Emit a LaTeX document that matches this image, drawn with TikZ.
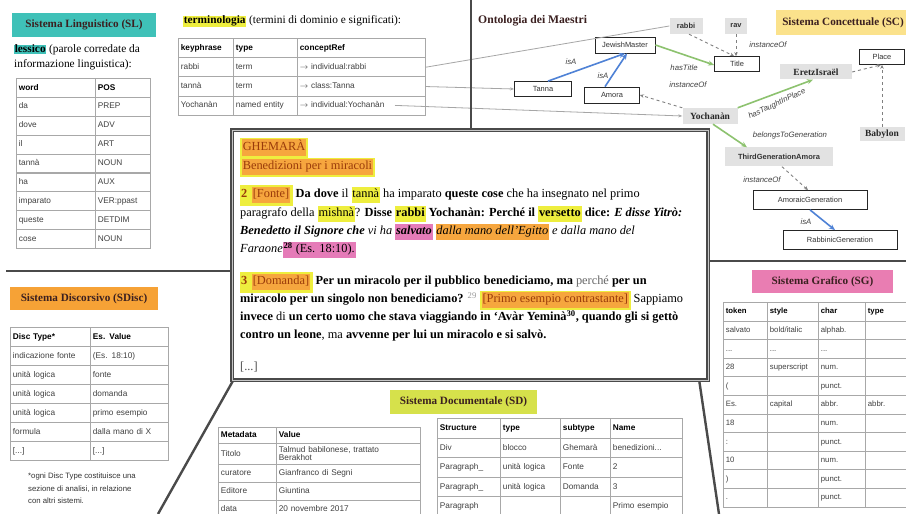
\documentclass[tikz,border=0pt]{standalone}
\usepackage{fontspec}
\setmainfont{Liberation Serif}
\setsansfont{Liberation Sans}
\usetikzlibrary{matrix,arrows.meta}

\definecolor{slteal}{HTML}{3FC1B8}
\definecolor{scyellow}{HTML}{FBE28C}
\definecolor{sdorange}{HTML}{F6A236}
\definecolor{sdgreen}{HTML}{D6E14B}
\definecolor{sgpink}{HTML}{E97DB2}
\definecolor{hly}{HTML}{EEEE3E}
\definecolor{hlo}{HTML}{F6A63E}
\definecolor{hlp}{HTML}{E57BB8}
\definecolor{nodegray}{HTML}{E2E2E2}
\definecolor{ogreen}{HTML}{8DC26F}
\definecolor{oblue}{HTML}{4F82D6}
\definecolor{divider}{HTML}{4A4A4A}
\definecolor{tblline}{HTML}{A8A8A8}
\definecolor{brownish}{HTML}{9A3B0A}
\definecolor{titletext}{HTML}{3B2020}

\newcommand{\mkY}[1]{{\setlength{\fboxsep}{0.8bp}\colorbox{hly}{\strut #1}}}
\newcommand{\mkO}[1]{{\setlength{\fboxsep}{1bp}\setlength{\fboxrule}{1.6bp}\fcolorbox{hly}{hlo}{\strut\textcolor{brownish}{#1}}}}
\newcommand{\mkOr}[1]{{\setlength{\fboxsep}{0.8bp}\colorbox{hlo}{\strut #1}}}
\newcommand{\mkP}[1]{{\setlength{\fboxsep}{0.8bp}\colorbox{hlp}{\strut #1}}}

\tikzset{
  divline/.style={draw=divider, line width=2.4bp},
  systitle/.style={inner sep=0pt, font=\bfseries\fontsize{11.2}{13}\selectfont, text=titletext},
  tbl/.style={matrix of nodes, nodes in empty cells, inner sep=0pt, outer sep=0pt,
    column sep=-0.8bp, row sep=-0.8bp,
    nodes={draw=tblline, line width=0.8bp, font=\sffamily\fontsize{8.3}{9.5}\selectfont,
      text=black!75, inner xsep=2.5bp, inner ysep=0pt, outer sep=0pt, align=left,
      text height=6.2bp, text depth=1.8bp, anchor=center},
    row 1/.style={nodes={font=\sffamily\bfseries\fontsize{8.3}{9.5}\selectfont, text=black}}},
  sgtbl/.style={tbl, nodes={font=\sffamily\fontsize{7.8}{9}\selectfont},
    row 1/.style={nodes={font=\sffamily\bfseries\fontsize{7.8}{9}\selectfont, text=black}}},
  onode/.style={draw=black!85, line width=0.8bp, fill=white, inner sep=0pt,
    font=\sffamily\fontsize{7.5}{9}\selectfont, text=black!80},
  gsans/.style={fill=nodegray, inner sep=0pt, font=\sffamily\bfseries\fontsize{7.5}{9}\selectfont, text=black!80},
  gserif/.style={fill=nodegray, inner sep=0pt, font=\bfseries\fontsize{9.5}{11}\selectfont, text=black!85},
  elabel/.style={inner sep=0pt, font=\sffamily\itshape\fontsize{7.8}{9}\selectfont, text=black!75},
  isa/.style={draw=oblue, line width=1.6bp, -{Stealth[length=6bp,width=5bp]}},
  rel/.style={draw=ogreen, line width=1.6bp, -{Stealth[length=6bp,width=5bp]}},
  inst/.style={draw=gray, line width=0.9bp, dashed, -{Stealth[length=4bp,width=3.5bp]}},
  termln/.style={draw=gray!70, line width=0.8bp},
  termarr/.style={termln, -{Stealth[length=4bp,width=3bp]}},
  btxt/.style={anchor=base west, inner sep=0pt, font=\fontsize{12.4}{14}\selectfont},
  ptxt/.style={anchor=base west, inner sep=0pt, font=\fontsize{11.4}{13}\selectfont},
}

\begin{document}
\begin{tikzpicture}[x=1bp,y=-1bp]
\fill[white] (0,0) rectangle (906,514);
\clip (0,0) rectangle (906,514);

% ---------------- Sistema Linguistico ----------------
\node[systitle, fill=slteal, minimum width=144bp, minimum height=24bp] (slt) at (84,25) {Sistema Linguistico (SL)};
\node[ptxt] (lex1) at (14,53) {{\setlength{\fboxsep}{0.6bp}\colorbox{slteal}{\textbf{lessico}}} (parole corredate da};
\node[ptxt] (lex2) at (14,68) {informazione linguistica):};
\matrix (sl) [tbl, anchor=north west, nodes={minimum height=18.9bp},
  column 1/.style={nodes={text width=74bp}}, column 2/.style={nodes={text width=50bp}}] at (16,78) {
word & POS \\
da & PREP \\
dove & ADV \\
il & ART \\
tannà & NOUN \\
ha & AUX \\
imparato & VER:ppast \\
queste & DETDIM \\
cose & NOUN \\
};

% ---------------- terminologia ----------------
\node[ptxt] (termlbl) at (183,24) {{\setlength{\fboxsep}{0.6bp}\colorbox{hly}{\textbf{terminologia}}} (termini di dominio e significati):};
\matrix (term) [tbl, anchor=north west, nodes={minimum height=19.25bp},
  column 1/.style={nodes={text width=50bp}}, column 2/.style={nodes={text width=59bp}},
  column 3/.style={nodes={text width=123bp}}] at (178,38) {
keyphrase & type & conceptRef \\
rabbi & term & $\rightarrow$ individual:rabbi \\
tannà & term & $\rightarrow$ class:Tanna \\
Yochanàn & named entity & $\rightarrow$ individual:Yochanàn \\
};
\coordinate (ystart) at (395,105.4);

% ---------------- Ontologia ----------------
\node[anchor=base west, inner sep=0pt, font=\bfseries\fontsize{11.7}{13}\selectfont, text=titletext] (ont) at (478,24) {Ontologia dei Maestri};
\node[systitle, fill=scyellow, minimum width=134bp, minimum height=25bp] (sct) at (843,23) {Sistema Concettuale (SC)};

\node[gsans, minimum width=33bp, minimum height=16bp] (rabbi) at (686,26) {rabbi};
\node[gsans, minimum width=22bp, minimum height=16bp] (rav) at (736,26) {rav};
\node[onode, minimum width=60bp, minimum height=16bp] (jm) at (625,45) {JewishMaster};
\node[onode, minimum width=45bp, minimum height=15bp] (title) at (737,64) {Title};
\node[onode, minimum width=45bp, minimum height=15bp] (place) at (882,57) {Place};
\node[onode, minimum width=57bp, minimum height=15bp] (tanna) at (543,89) {Tanna};
\node[onode, minimum width=55bp, minimum height=16bp] (amora) at (612,95) {Amora};
\node[gserif, minimum width=72bp, minimum height=15bp] (eretz) at (816,72) {EretzIsraël};
\node[gserif, minimum width=55bp, minimum height=16bp] (yoch) at (710,116) {Yochanàn};
\node[gserif, minimum width=45bp, minimum height=14bp] (baby) at (882,134) {Babylon};
\node[gsans, minimum width=108bp, minimum height=19bp] (third) at (779,157) {ThirdGenerationAmora};
\node[onode, minimum width=114bp, minimum height=19bp] (amgen) at (810,200) {AmoraicGeneration};
\node[onode, minimum width=114bp, minimum height=19bp] (rabgen) at (840,240) {RabbinicGeneration};

\draw[isa] ([xshift=5bp]tanna.north) -- (jm.south);
\draw[isa] ([xshift=-7bp]amora.north) -- ([xshift=2bp]jm.south);
\draw[rel] (jm.east) -- ([yshift=-1bp]title.west);
\draw[inst] ([xshift=3bp]rabbi.south) -- ([xshift=-3bp]title.north);
\draw[inst] (rav.south) -- ([xshift=-1bp]title.north);
\draw[inst] (yoch.north west) -- (amora.east);
\draw[rel] (yoch.north east) -- ([xshift=-3bp]eretz.south);
\draw[inst] (eretz.east) -- ([xshift=-1bp]place.south);
\draw[inst] (baby.north) -- (place.south);
\draw[rel] ([xshift=3bp]yoch.south) -- ([xshift=-32bp]third.north);
\draw[inst] ([xshift=3bp]third.south) -- ([xshift=-2bp]amgen.north);
\draw[isa] (amgen.south) -- ([xshift=-5bp]rabgen.north);

\node[elabel] (lisa1) at (571,62) {isA};
\node[elabel] (lisa2) at (603,76) {isA};
\node[elabel] (lhastitle) at (684,68) {hasTitle};
\node[elabel] (linst1) at (768,45) {instanceOf};
\node[elabel] (linst2) at (688,85) {instanceOf};
\node[elabel, rotate=25] (ltaught) at (777,104) {hasTaughtInPlace};
\node[elabel] (lbelongs) at (790,135) {belongsToGeneration};
\node[elabel] (linst3) at (762,180) {instanceOf};
\node[elabel] (lisa3) at (806,222) {isA};

\draw[termln] (term-2-3.east) -- (rabbi.west);
\draw[termarr] (term-3-3.east) -- (tanna.west);
\draw[termarr] (ystart) -- (yoch.west);

% ---------------- Sistema Discorsivo ----------------
\node[systitle, fill=sdorange, minimum width=148bp, minimum height=23bp] (sdt) at (84,298.5) {Sistema Discorsivo (SDisc)};
\matrix (sdisc) [tbl, anchor=north west, nodes={minimum height=19bp},
  column 1/.style={nodes={text width=75bp}}, column 2/.style={nodes={text width=73bp}}] at (10,327) {
Disc Type* & Es. Value \\
indicazione fonte & {(Es. 18:10)} \\
unità logica & fonte \\
unità logica & domanda \\
unità logica & primo esempio \\
formula & dalla mano di X \\
{[...]} & {[...]} \\
};
\node[anchor=north west, inner sep=0pt, align=left, font=\sffamily\fontsize{7.8}{12.3}\selectfont, text=black!80] (fn) at (28,473) {*ogni Disc Type costituisce una\\sezione di analisi, in relazione\\con altri sistemi.};

% ---------------- Sistema Documentale ----------------
\node[systitle, fill=sdgreen, minimum width=147bp, minimum height=24bp] (sdoct) at (463.5,402) {Sistema Documentale (SD)};
\matrix (meta) [tbl, anchor=north west, nodes={minimum height=18bp},
  row 1/.style={nodes={minimum height=16bp, font=\sffamily\bfseries\fontsize{8.3}{9.5}\selectfont, text=black}},
  row 2/.style={nodes={minimum height=21bp}},
  column 1/.style={nodes={text width=53bp}}, column 2/.style={nodes={text width=139bp}}] at (218,427) {
Metadata & Value \\
Titolo & |[text depth=10bp, font=\sffamily\fontsize{8.3}{8.6}\selectfont]| Talmud babilonese, trattato\newline Berakhot \\
curatore & Gianfranco di Segni \\
Editore & Giuntina \\
data & 20 novembre 2017 \\
};
\matrix (struct) [tbl, anchor=north west, nodes={minimum height=19.6bp},
  column 1/.style={nodes={text width=58bp}}, column 2/.style={nodes={text width=55bp}},
  column 3/.style={nodes={text width=45bp}}, column 4/.style={nodes={text width=67bp}}] at (437,418) {
Structure & type & subtype & Name \\
Div & blocco & Ghemarà & benedizioni... \\
Paragraph\_ & unità logica & Fonte & 2 \\
Paragraph\_ & unità logica & Domanda & 3 \\
Paragraph & & & Primo esempio \\
};

% ---------------- Sistema Grafico ----------------
\node[systitle, fill=sgpink, minimum width=141bp, minimum height=23bp] (sgt) at (822.5,281.5) {Sistema Grafico (SG)};
\matrix (sg) [sgtbl, anchor=north west, nodes={minimum height=18.6bp},
  column 1/.style={nodes={text width=39bp}}, column 2/.style={nodes={text width=46bp}},
  column 3/.style={nodes={text width=42bp}}, column 4/.style={nodes={text width=40bp}}] at (723,302) {
token & style & char & type \\
salvato & bold/italic & alphab. & \\
... & ... & ... & \\
28 & superscript & num. & \\
{(} & & punct. & \\
Es. & capital & abbr. & abbr. \\
18 & & num. & \\
: & & punct. & \\
10 & & num. & \\
{)} & & punct. & \\
. & & punct. & \\
};

% ---------------- dividers ----------------
\draw[divline] (471,0) -- (471,130);
\draw[divline] (6,271) -- (232,271);
\draw[divline] (708,261) -- (906,261);
\draw[divline] (234,379) -- (158,514);
\draw[divline] (699,379) -- (719,514);

% ---------------- central text box ----------------
\node[draw=divider, line width=1.1bp, double=gray!45, double distance=0.9bp, fill=white,
  minimum width=476bp, minimum height=250bp, inner sep=0pt] (box) at (470,255) {};
\begin{scope}
\clip ([xshift=2bp,yshift=2bp]box.south west) rectangle ([xshift=-2bp,yshift=-2bp]box.north east);
\node[btxt] (g1) at (240,151) {\mkO{GHEMARÀ}};
\node[btxt] (g2) at (240,170) {\mkO{Benedizioni per i miracoli}};
\node[btxt] (p1) at (240,198) {\mkY{\textcolor{brownish}{\textbf{2}}\ \mkO{[Fonte]}} \textbf{Da dove} il \mkY{tannà} ha imparato \textbf{queste cose} che ha insegnato nel primo};
\node[btxt] (p2) at (240,217) {paragrafo della \mkY{mishnà}? \textbf{Disse \mkY{rabbi} Yochanàn: Perché il \mkY{versetto} dice:} \textbf{\textit{E disse Yitrò:}}};
\node[btxt] (p3) at (240,235) {\textbf{\textit{Benedetto il Signore che}} \textit{vi ha} \mkP{\textbf{\textit{salvato}}} \mkOr{\textit{dalla mano dell’Egitto}} \textit{e dalla mano del}};
\node[btxt] (p4) at (240,253) {\textit{Faraone}\mkP{\textbf{\textsuperscript{28}} (Es. 18:10).}};
\node[btxt] (q1) at (240,285) {\mkY{\textcolor{brownish}{\textbf{3}}\ \mkO{[Domanda]}} \textbf{Per un miracolo per il pubblico benediciamo, ma} \textcolor{black!60}{perché} \textbf{per un}};
\node[btxt] (q2) at (240,303) {\textbf{miracolo per un singolo non benediciamo?} \textcolor{black!40}{\textsuperscript{29}} \mkO{[Primo esempio contrastante]} Sappiamo};
\node[btxt] (q3) at (240,321) {\textbf{invece} di \textbf{un certo uomo che stava viaggiando in ‘Avàr Yeminà\textsuperscript{30}, quando gli si gettò}};
\node[btxt] (q4) at (240,339) {\textbf{contro un leone}, ma \textbf{avvenne per lui un miracolo e si salvò.}};
\node[btxt, text=black!70] (dots) at (240,370) {[...]};
\end{scope}
\end{tikzpicture}
\end{document}
